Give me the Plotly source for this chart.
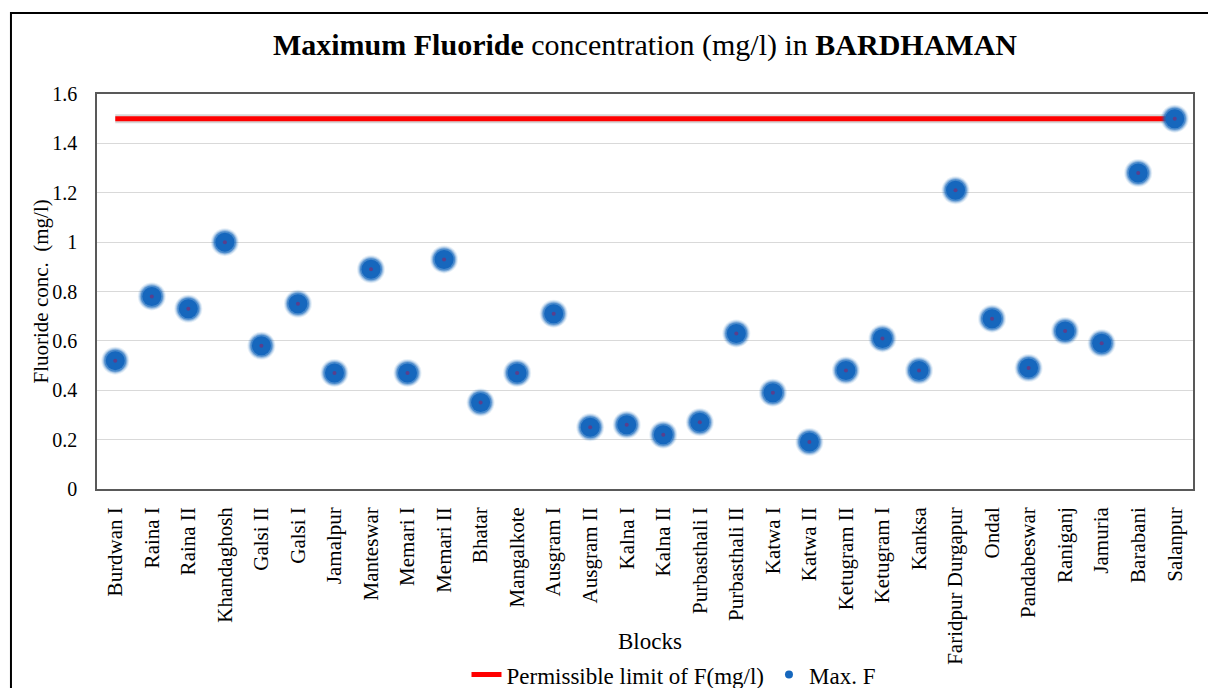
import plotly.graph_objects as go

# Blocks of Bardhaman district and their maximum fluoride concentration (mg/l)
blocks = [
    "Burdwan I", "Raina I", "Raina II", "Khandaghosh", "Galsi II", "Galsi I",
    "Jamalpur", "Manteswar", "Memari I", "Memari II", "Bhatar", "Mangalkote",
    "Ausgram I", "Ausgram II", "Kalna I", "Kalna II", "Purbasthali I",
    "Purbasthali II", "Katwa I", "Katwa II", "Ketugram II", "Ketugram I",
    "Kanksa", "Faridpur Durgapur", "Ondal", "Pandabeswar", "Raniganj",
    "Jamuria", "Barabani", "Salanpur",
]
max_f = [
    0.52, 0.78, 0.73, 1.00, 0.58, 0.75,
    0.47, 0.89, 0.47, 0.93, 0.35, 0.47,
    0.71, 0.25, 0.26, 0.22, 0.27,
    0.63, 0.39, 0.19, 0.48, 0.61,
    0.48, 1.21, 0.69, 0.49, 0.64,
    0.59, 1.28, 1.50,
]
permissible_limit = [1.5] * len(blocks)
y_ticks = [0, 0.2, 0.4, 0.6, 0.8, 1, 1.2, 1.4, 1.6]
y_tick_text = ["0", "0.2", "0.4", "0.6", "0.8", "1", "1.2", "1.4", "1.6"]

SERIF = "Liberation Serif"
DOT_BLUE = "#1667bd"

fig = go.Figure()

# soft shadow under the limit line
fig.add_trace(go.Scatter(
    x=blocks, y=permissible_limit, mode="lines",
    line=dict(color="rgba(120,120,120,0.3)", width=9),
    hoverinfo="skip", showlegend=False,
))
fig.add_trace(go.Scatter(
    x=blocks, y=permissible_limit, mode="lines",
    name="Permissible limit of F(mg/l)",
    line=dict(color="#ff0000", width=5),
))

# blurred-looking points: stacked translucent discs around a solid core
for size, alpha in [(28, 0.10), (26, 0.18), (24, 0.30), (22, 0.55)]:
    fig.add_trace(go.Scatter(
        x=blocks, y=max_f, mode="markers",
        marker=dict(size=size, color=f"rgba(22,103,189,{alpha})", line=dict(width=0)),
        hoverinfo="skip", showlegend=False,
    ))
fig.add_trace(go.Scatter(
    x=blocks, y=max_f, mode="markers", name="Max. F",
    marker=dict(size=19, color=DOT_BLUE, line=dict(width=0)),
    showlegend=False,
))
fig.add_trace(go.Scatter(
    x=blocks, y=max_f, mode="markers",
    marker=dict(size=4, color="#5a3f8c", line=dict(width=0)),
    hoverinfo="skip", showlegend=False,
))
# legend entry with a small dot
fig.add_trace(go.Scatter(
    x=[None], y=[None], mode="markers", name="Max. F",
    marker=dict(size=8, color=DOT_BLUE, line=dict(width=0)),
))

fig.update_layout(
    template="none",
    width=1208, height=688,
    margin=dict(l=97, r=15, t=94, b=199, autoexpand=False),
    paper_bgcolor="white", plot_bgcolor="white",
    font=dict(family=SERIF, color="#000000"),
    title=dict(
        text="<b>Maximum Fluoride</b> concentration (mg/l) in <b>BARDHAMAN</b>",
        x=0.5, xref="paper", xanchor="center",
        y=0.935, yref="container", yanchor="middle",
        font=dict(family=SERIF, size=30, color="#000000"),
    ),
    xaxis=dict(
        type="category", range=[-0.5, len(blocks) - 0.5],
        tickangle=-90, tickfont=dict(family=SERIF, size=21, color="#000000"),
        showgrid=False, ticks="", ticklabelstandoff=8, automargin=False,
        showline=True, linecolor="#595959", linewidth=1.5, mirror=True,
        zeroline=False,
    ),
    yaxis=dict(
        range=[0, 1.6], tickvals=y_ticks, ticktext=y_tick_text,
        tickfont=dict(family=SERIF, size=20, color="#000000"),
        showgrid=True, gridcolor="#d9d9d9", gridwidth=1, automargin=False,
        zeroline=False, ticks="", ticklabelstandoff=14,
        showline=True, linecolor="#595959", linewidth=1.5, mirror=True,
    ),
    legend=dict(
        orientation="h", x=0.526, xanchor="center",
        y=-0.470, yanchor="middle",
        font=dict(family=SERIF, size=23, color="#000000"),
        bgcolor="rgba(0,0,0,0)", itemwidth=30,
    ),
    showlegend=True,
    annotations=[
        dict(text="Fluoride conc.  (mg/l)", textangle=-90,
             x=-0.052, xref="paper", xanchor="center",
             y=0.5, yref="paper", yanchor="middle",
             showarrow=False, font=dict(family=SERIF, size=21, color="#000000")),
        dict(text="Blocks",
             x=0.505, xref="paper", xanchor="center",
             y=-0.386, yref="paper", yanchor="middle",
             showarrow=False, font=dict(family=SERIF, size=23, color="#000000")),
    ],
    shapes=[
        # outer chart frame
        dict(type="rect", xref="paper", yref="paper",
             x0=-0.0785, x1=1.03, y0=-0.6, y1=1.205,
             line=dict(color="#000000", width=2), fillcolor="rgba(0,0,0,0)",
             layer="below"),
    ],
)

fig.write_html("out.html")
